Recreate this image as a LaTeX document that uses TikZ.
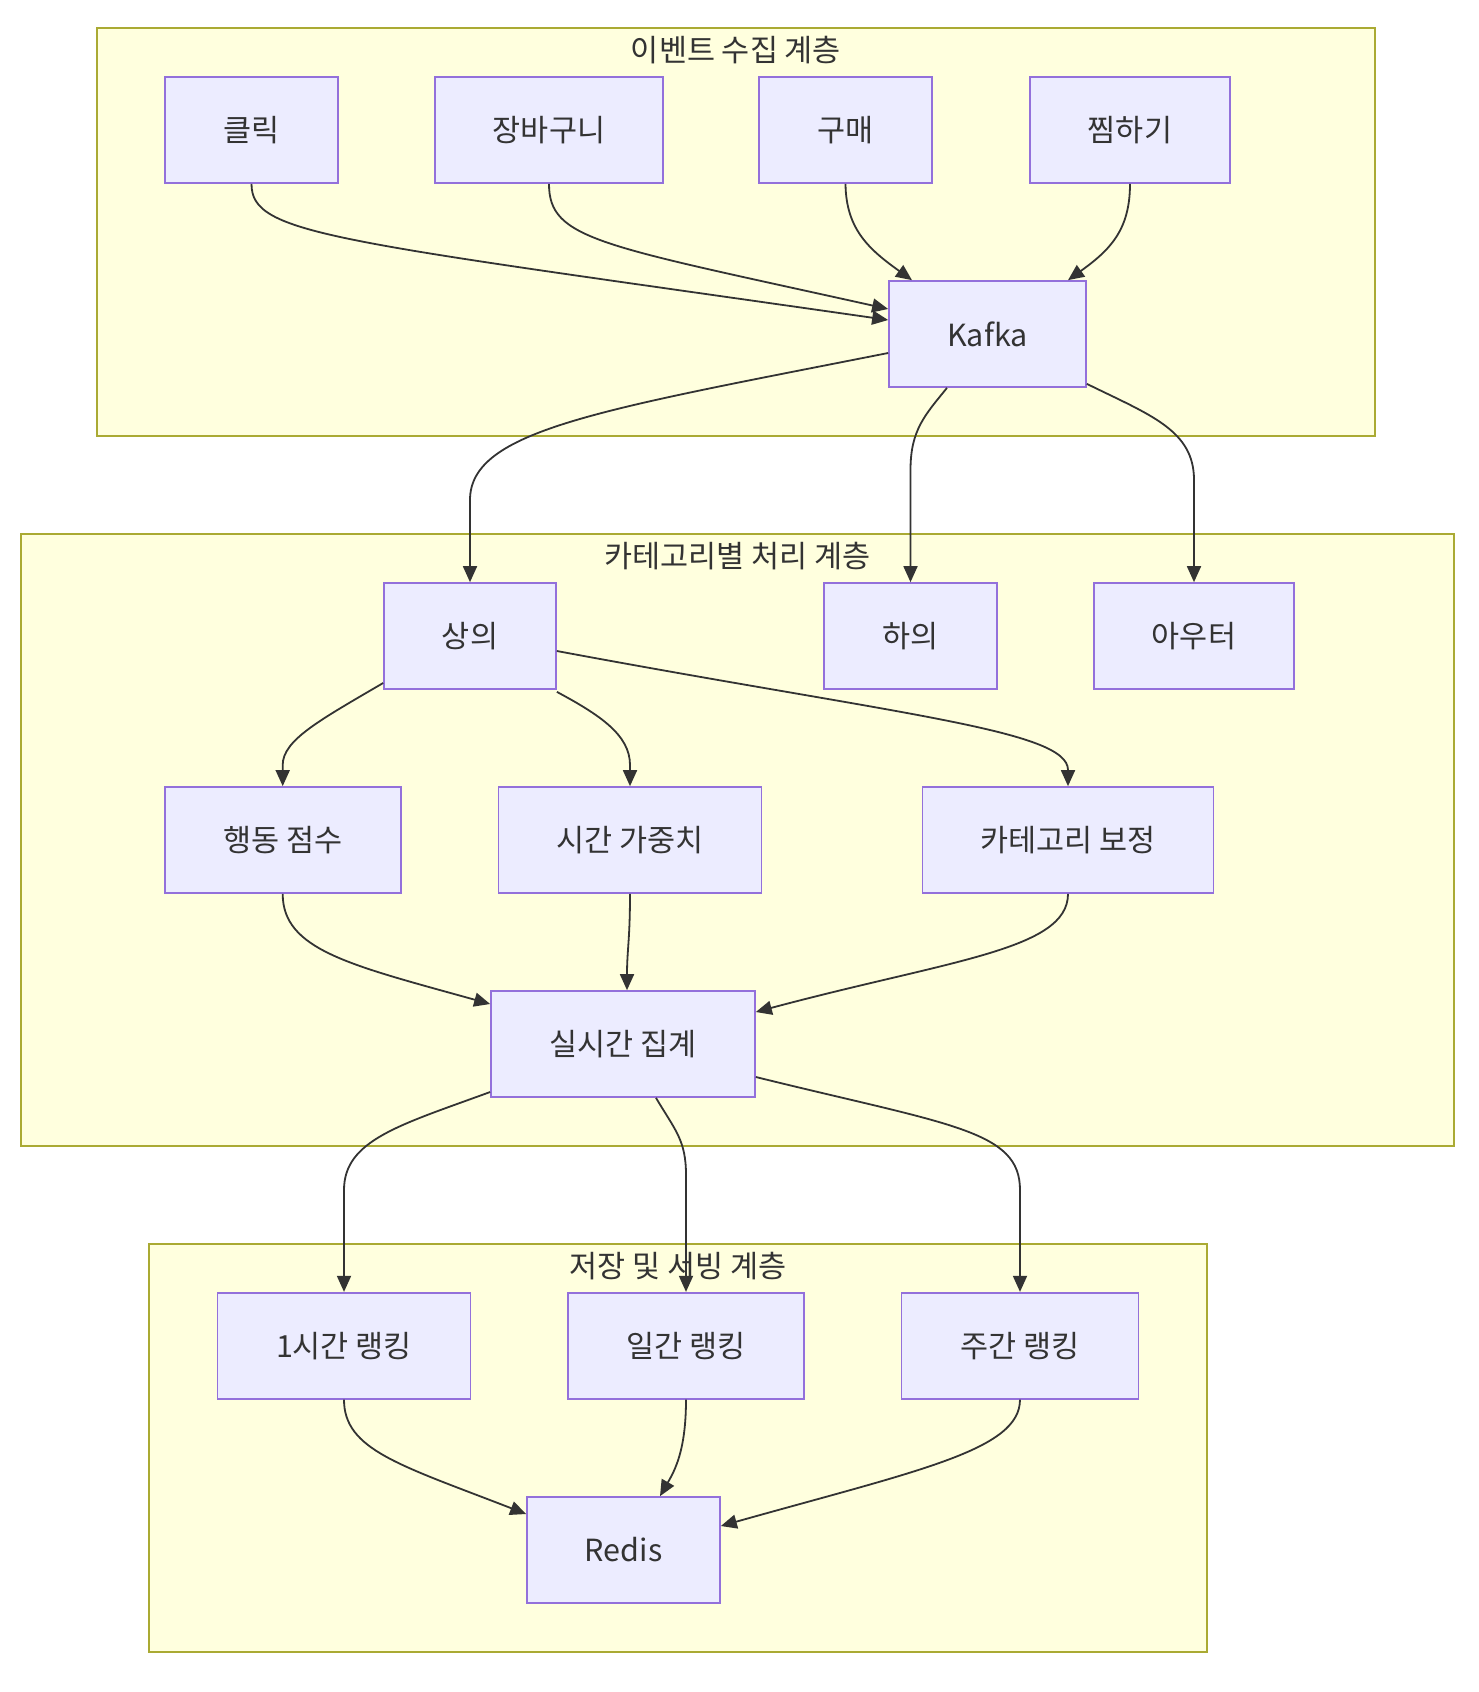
\documentclass[tikz,border=0pt]{standalone}
\usepackage{fontspec}
\setmainfont{Noto Sans CJK KR}
\usepackage{tikz}
\usetikzlibrary{arrows.meta}
\definecolor{layerfill}{HTML}{FFFFDE}
\definecolor{layerline}{HTML}{AAAA33}
\definecolor{boxfill}{HTML}{ECECFF}
\definecolor{boxline}{HTML}{9370DB}
\definecolor{ink}{HTML}{333333}

\begin{document}
\begin{tikzpicture}[x=0.5pt,y=-0.5pt]
    \tikzstyle{layer}=[draw=layerline,fill=layerfill,line width=1pt]
    \tikzstyle{title}=[text=ink,font=\fontsize{15.25pt}{18pt}\selectfont]
    \tikzstyle{box}=[draw=boxline,fill=boxfill,line width=0.85pt,minimum height=53pt,inner sep=0pt,text=ink,font=\fontsize{15.25pt}{18pt}\selectfont]
    \tikzstyle{flow}=[draw=ink,line width=0.9pt,-{Triangle[length=8pt,width=7pt]}]

    \useasboundingbox (0,0) rectangle (1478,1692);

    % layers
    \draw[layer] (97,28) rectangle (1375,436);
    \draw[layer] (21,534) rectangle (1454,1146);
    \draw[layer] (149,1244) rectangle (1207,1652);
    \node[title] (collecttitle) at (736,50) {이벤트 수집 계층};
    \node[title] (processtitle) at (737.5,556) {카테고리별 처리 계층};
    \node[title] (servetitle) at (678,1266) {저장 및 서빙 계층};

    % event collection
    \node[box,minimum width=86.5pt] (click) at (251.5,130) {클릭};
    \node[box,minimum width=114pt] (cart) at (549,130) {장바구니};
    \node[box,minimum width=86.5pt] (buy) at (845.5,130) {구매};
    \node[box,minimum width=100pt] (wish) at (1130,130) {찜하기};
    \node[box,minimum width=98.5pt] (kafka) at (987.5,334) {Kafka};

    % category processing
    \node[box,minimum width=86pt] (top) at (470,636) {상의};
    \node[box,minimum width=86.5pt] (bottom) at (910.5,636) {하의};
    \node[box,minimum width=100pt] (outer) at (1194,636) {아우터};
    \node[box,minimum width=118pt] (actscore) at (282.7,840) {행동 점수};
    \node[box,minimum width=131.5pt] (timeweight) at (630,840) {시간 가중치};
    \node[box,minimum width=145.5pt] (catfix) at (1068,840) {카테고리 보정};
    \node[box,minimum width=132pt] (liveagg) at (623,1044) {실시간 집계};

    % storage and serving
    \node[box,minimum width=126.5pt] (rank1h) at (344,1345.7) {1시간 랭킹};
    \node[box,minimum width=118pt] (rankday) at (686,1345.7) {일간 랭킹};
    \node[box,minimum width=118.5pt] (rankweek) at (1020,1345.7) {주간 랭킹};
    \node[box,minimum width=96.5pt] (redis) at (623.5,1550) {Redis};

    % edges
    \draw[flow] (click.south) .. controls (251.5,235) and (330,240) .. ([yshift=7pt]kafka.west);
    \draw[flow] (cart.south) .. controls (549,240) and (600,245) .. ([yshift=12.5pt]kafka.west);
    \draw[flow] (buy.south) .. controls (846,230) and (870,250) .. ([xshift=-37.75pt]kafka.north);
    \draw[flow] (wish.south) .. controls (1130,230) and (1110,250) .. ([xshift=40.25pt]kafka.north);

    \draw[flow] ([yshift=-9.5pt]kafka.west) .. controls (600,410) and (470,430) .. (470,500) -- (top.north);
    \draw[flow] ([xshift=-20.25pt]kafka.south) .. controls (925,415) and (910.5,430) .. (910.5,470) -- (bottom.north);
    \draw[flow] ([yshift=2pt]kafka.south east) .. controls (1150,415) and (1194,430) .. (1194,480) -- (outer.north);

    \draw[flow] ([yshift=-23.5pt]top.west) .. controls (320,720) and (282.7,740) .. (282.7,765) -- (actscore.north);
    \draw[flow] ([yshift=-1pt]top.south east) .. controls (600,715) and (630,735) .. (630,765) -- (timeweight.north);
    \draw[flow] ([yshift=-7.5pt]top.east) .. controls (900,715) and (1068,730) .. (1068,770) -- (catfix.north);

    \draw[flow] (actscore.south) .. controls (282.7,950) and (350,965) .. ([yshift=20pt]liveagg.west);
    \draw[flow] (timeweight.south) .. controls (630,940) and (627,950) .. ([xshift=2pt]liveagg.north);
    \draw[flow] (catfix.south) .. controls (1068,950) and (950,960) .. ([yshift=16pt]liveagg.east);

    \draw[flow] ([yshift=-24pt]liveagg.west) .. controls (400,1125) and (344,1140) .. (344,1190) -- (rank1h.north);
    \draw[flow] ([xshift=16.5pt]liveagg.south) .. controls (675,1130) and (686,1140) .. (686,1175) -- (rankday.north);
    \draw[flow] ([yshift=-16.5pt]liveagg.east) .. controls (950,1125) and (1020,1130) .. (1020,1190) -- (rankweek.north);

    \draw[flow] (rank1h.south) .. controls (344,1450) and (400,1465) .. ([yshift=18pt]redis.west);
    \draw[flow] (rankday.south) .. controls (686,1450) and (675,1470) .. ([xshift=18.25pt]redis.north);
    \draw[flow] (rankweek.south) .. controls (1020,1450) and (920,1470) .. ([yshift=12pt]redis.east);
\end{tikzpicture}
\end{document}
